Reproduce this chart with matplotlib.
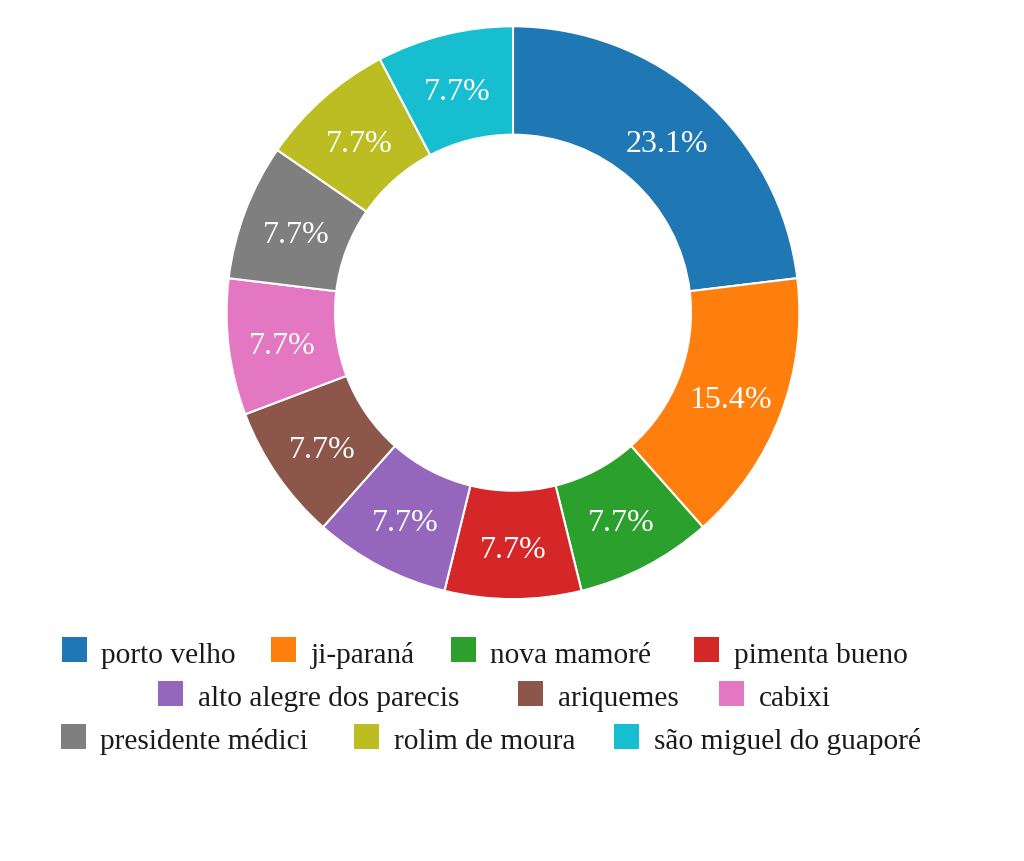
import matplotlib
matplotlib.use("Agg")
import matplotlib.pyplot as plt
from matplotlib.patches import Rectangle

categories = ["porto velho", "ji-paraná", "nova mamoré", "pimenta bueno",
              "alto alegre dos parecis", "ariquemes", "cabixi",
              "presidente médici", "rolim de moura", "são miguel do guaporé"]
values = [3, 2, 1, 1, 1, 1, 1, 1, 1, 1]
colors = ["#1f77b4", "#ff7f0e", "#2ca02c", "#d62728", "#9467bd",
          "#8c564b", "#e377c2", "#7f7f7f", "#bcbd22", "#17becf"]
legend_rows = [[0, 1, 2, 3], [4, 5, 6], [7, 8, 9]]

W, H = 1024, 862
fig = plt.figure(figsize=(W / 100, H / 100), dpi=100)
ax = fig.add_axes([0, 0, 1, 1])

serif = ["Liberation Serif", "DejaVu Serif"]
cx, cy = 513, H - 313.7
R_out, R_in = 286.4, 178.0

wedges, texts, autotexts = ax.pie(
    values, colors=colors, startangle=90, counterclock=False,
    center=(cx, cy), radius=R_out, autopct="%.1f%%",
    pctdistance=((R_out + R_in) / 2) / R_out,
    wedgeprops=dict(width=R_out - R_in, edgecolor="white", linewidth=1.5),
    textprops=dict(color="white", fontsize=23, family=serif),
    frame=True)
for t in autotexts:
    x0, y0 = t.get_position()
    t.set_position((x0, y0 - 12))
    t.set_va("baseline")
    t.set_ha("center")
ax.set_xlim(0, W)
ax.set_ylim(0, H)
ax.set_aspect("auto")
ax.axis("off")

# legend layout (pixel positions of swatch left edges, per row)
fs = 21.2
sq = 25
gap = 14.5
legend_x = [[61.7, 271, 451, 694.3], [158.3, 518.3, 719], [60.7, 354.3, 614.3]]
row_y = [650.3, 694, 737]
for r, idxs in enumerate(legend_rows):
    yc = H - row_y[r]
    for i, x in zip(idxs, legend_x[r]):
        ax.add_patch(Rectangle((x, yc - sq / 2), sq, sq, facecolor=colors[i],
                               edgecolor="none"))
        ax.text(x + sq + gap, yc - 12.5, categories[i], fontsize=fs,
                family=serif, color="#1a1a1a", va="baseline", ha="left")

fig.savefig("out.png", dpi=100, facecolor="white")
